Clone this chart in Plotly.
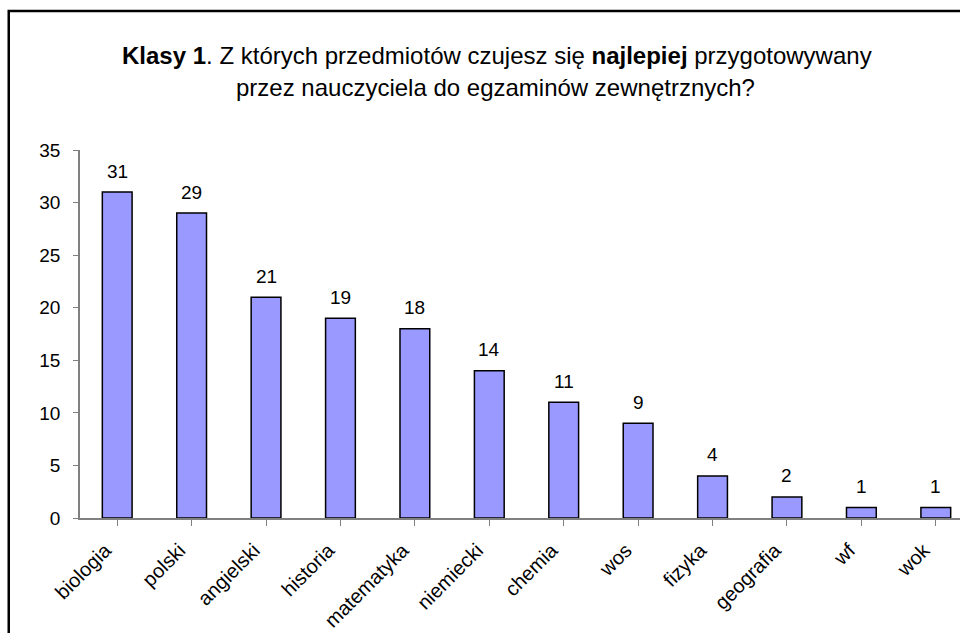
import plotly.graph_objects as go

categories = ["biologia", "polski", "angielski", "historia", "matematyka", "niemiecki",
              "chemia", "wos", "fizyka", "geografia", "wf", "wok"]
values = [31, 29, 21, 19, 18, 14, 11, 9, 4, 2, 1, 1]
y_ticks = [0, 5, 10, 15, 20, 25, 30, 35]

FONT = "Liberation Sans, Arial, sans-serif"

fig = go.Figure()
fig.add_trace(go.Bar(
    x=list(range(len(categories))), y=values, width=0.4,
    marker=dict(color="#9999FF", line=dict(color="#000000", width=1.5)),
    hoverinfo="skip", showlegend=False,
))

for i, v in enumerate(values):
    fig.add_annotation(x=i, y=v, text=str(v), showarrow=False, yshift=21,
                       font=dict(family=FONT, size=19, color="#000"))

fig.add_annotation(xref="paper", yref="paper", x=0.467, y=1.258, xanchor="center", yanchor="middle",
                   text="<b>Klasy 1</b>. Z których przedmiotów czujesz się <b>najlepiej</b> przygotowywany",
                   showarrow=False, font=dict(family=FONT, size=24, color="#000"))
fig.add_annotation(xref="paper", yref="paper", x=0.465, y=1.171, xanchor="center", yanchor="middle",
                   text="przez nauczyciela do egzaminów zewnętrznych?",
                   showarrow=False, font=dict(family=FONT, size=24, color="#000"))

fig.add_shape(type="rect", xref="paper", yref="paper", x0=-0.0798, x1=3, y0=-3, y1=1.3777,
              line=dict(color="#000", width=2.5), fillcolor="rgba(0,0,0,0)", layer="above")

fig.update_layout(
    width=980, height=633,
    margin=dict(l=80, r=7, t=150, b=115, autoexpand=False),
    paper_bgcolor="white", plot_bgcolor="white",
    font=dict(family=FONT, color="#000"),
)
fig.update_xaxes(
    range=[-0.5, 11.5], tickmode="array", tickvals=list(range(len(categories))), ticktext=categories,
    tickangle=-45, tickson="boundaries", ticks="outside", ticklen=6, tickcolor="#808080",
    showline=True, linecolor="#808080", linewidth=1.5, showgrid=False, zeroline=False,
    tickfont=dict(family=FONT, size=20, color="#000"), ticklabelstandoff=5, ticklabelshift=-12,
    automargin=False,
)
fig.update_yaxes(
    range=[0, 35], tickmode="array", tickvals=y_ticks, ticks="outside", ticklen=5, tickcolor="#808080",
    showline=True, linecolor="#808080", linewidth=1.5, showgrid=False, zeroline=False,
    tickfont=dict(family=FONT, size=19, color="#000"), ticklabelstandoff=9, automargin=False,
)

fig.write_html(
    "out.html",
    config={"displayModeBar": False},
    post_script="document.body.style.margin='0';document.body.style.overflow='hidden';"
                "document.documentElement.style.overflow='hidden';",
)
